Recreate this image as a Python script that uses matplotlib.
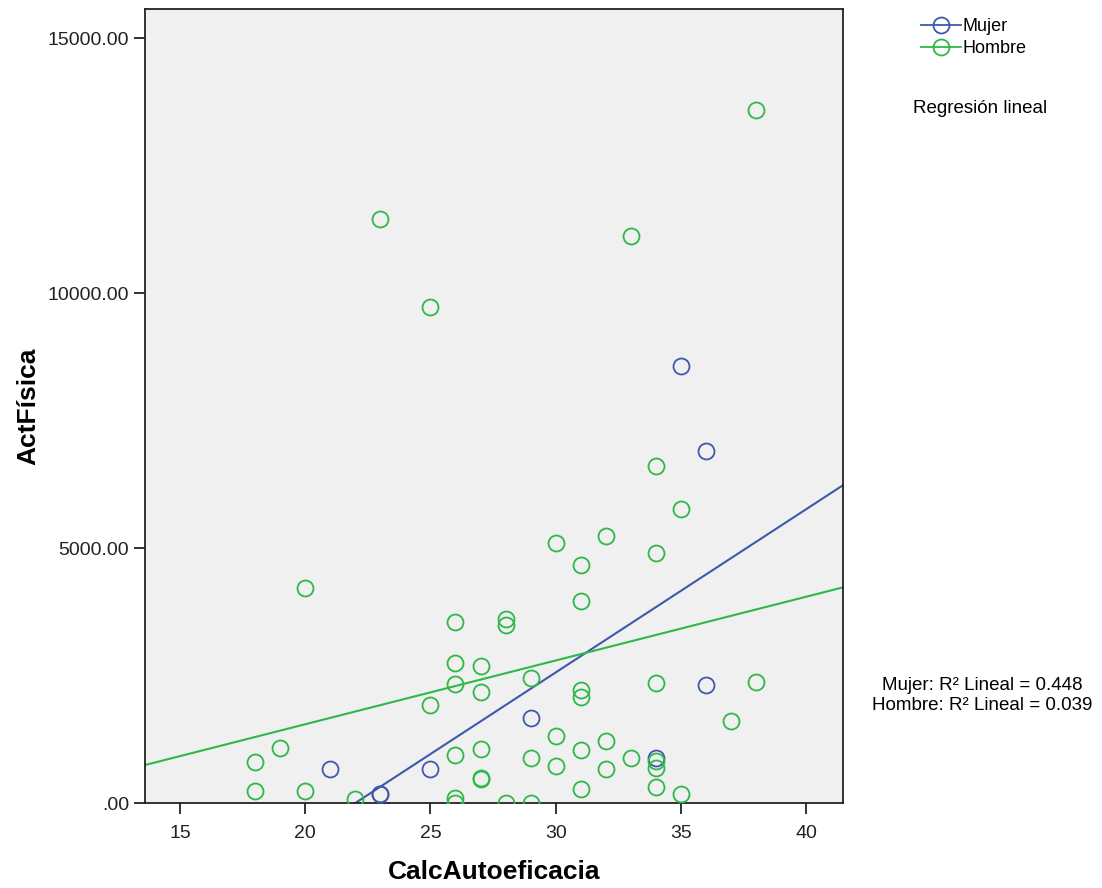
import numpy as np
import matplotlib
matplotlib.use('Agg')
import matplotlib.pyplot as plt
from matplotlib.lines import Line2D
from matplotlib.ticker import FuncFormatter

plt.rcParams['font.family'] = ['Liberation Sans', 'DejaVu Sans']

# ---------- datos ----------
mujer_x = [35, 36, 36, 29, 34, 21, 25, 23, 23]
mujer_y = [8570, 6900, 2310, 1670, 890, 670, 670, 180, 170]

hombre_x = [38, 23, 33, 25, 34, 35, 32, 30, 34, 31, 20, 31, 26, 28, 28,
            26, 27, 34, 26, 27, 31, 31, 29, 25, 38, 37, 19, 18, 26, 27,
            30, 31, 32, 33, 29, 30, 32, 34, 34, 27, 27, 18, 20, 22, 26,
            26, 28, 29, 31, 34, 35]
hombre_y = [13590, 11450, 11120, 9720, 6610, 5770, 5240, 5100, 4900, 4670,
            4220, 3960, 3550, 3610, 3490, 2750, 2690, 2350, 2330, 2180,
            2220, 2080, 2450, 1920, 2370, 1610, 1080, 800, 940, 1060,
            1310, 1040, 1220, 880, 880, 730, 670, 820, 690, 500, 470,
            240, 240, 80, 100, 0, 0, 0, 280, 310, 180]

# regresion lineal (pendiente, intercepto)
fit_mujer = (320.0, -7040.0)
fit_hombre = (125.0, -955.0)
r2_mujer = 0.448
r2_hombre = 0.039

x_ticks = [15, 20, 25, 30, 35, 40]
y_ticks = [0, 5000, 10000, 15000]

c_mujer = '#3e58ac'
c_hombre = '#2eb848'

fig = plt.figure(figsize=(11.02, 8.88), dpi=100)
ax = fig.add_axes([0.1316, 0.0957, 0.6334, 0.894])
ax.set_facecolor('#f0f0f0')

xmin, xmax = 13.6, 41.48
ax.set_xlim(xmin, xmax)
ax.set_ylim(0, 15570)

ax.plot(mujer_x, mujer_y, 'o', mfc='none', mec=c_mujer, ms=11.5, mew=1.3, zorder=3)
ax.plot(hombre_x, hombre_y, 'o', mfc='none', mec=c_hombre, ms=11.5, mew=1.3, zorder=3)

xx = np.array([xmin, xmax])
ax.plot(xx, fit_mujer[0] * xx + fit_mujer[1], color=c_mujer, lw=1.5, zorder=2)
ax.plot(xx, fit_hombre[0] * xx + fit_hombre[1], color=c_hombre, lw=1.5, zorder=2)

ax.set_xticks(x_ticks)
ax.set_yticks(y_ticks)
ax.yaxis.set_major_formatter(FuncFormatter(lambda v, p: ('%.2f' % v).lstrip('0') if v == 0 else '%.2f' % v))
ax.tick_params(direction='out', length=8, width=1.3, labelsize=14, colors='#222222')
ax.tick_params(axis='x', pad=8)
for s in ax.spines.values():
    s.set_color('#222222')
    s.set_linewidth(1.3)

ax.set_xlabel('CalcAutoeficacia', fontsize=19, fontweight='bold', labelpad=13)
ax.set_ylabel('ActFísica', fontsize=19, fontweight='bold', labelpad=5)

handles = [
    Line2D([], [], color=c_mujer, marker='o', mfc='none', mec=c_mujer, ms=11.5, mew=1.3, lw=1.3),
    Line2D([], [], color=c_hombre, marker='o', mfc='none', mec=c_hombre, ms=11.5, mew=1.3, lw=1.3),
]
fig.legend(handles, ['Mujer', 'Hombre'], loc='upper left', bbox_to_anchor=(0.821, 0.998),
           frameon=False, fontsize=13, handlelength=2.2, handletextpad=0.1, labelspacing=0.3)

fig.text(0.889, 0.878, 'Regresión lineal', fontsize=13.5, ha='center', va='center')
fig.text(0.891, 0.228, 'Mujer: R² Lineal = %.3f' % r2_mujer, fontsize=13.5, ha='center', va='center')
fig.text(0.891, 0.206, 'Hombre: R² Lineal = %.3f' % r2_hombre, fontsize=13.5, ha='center', va='center')

fig.savefig('out.png', dpi=100)
